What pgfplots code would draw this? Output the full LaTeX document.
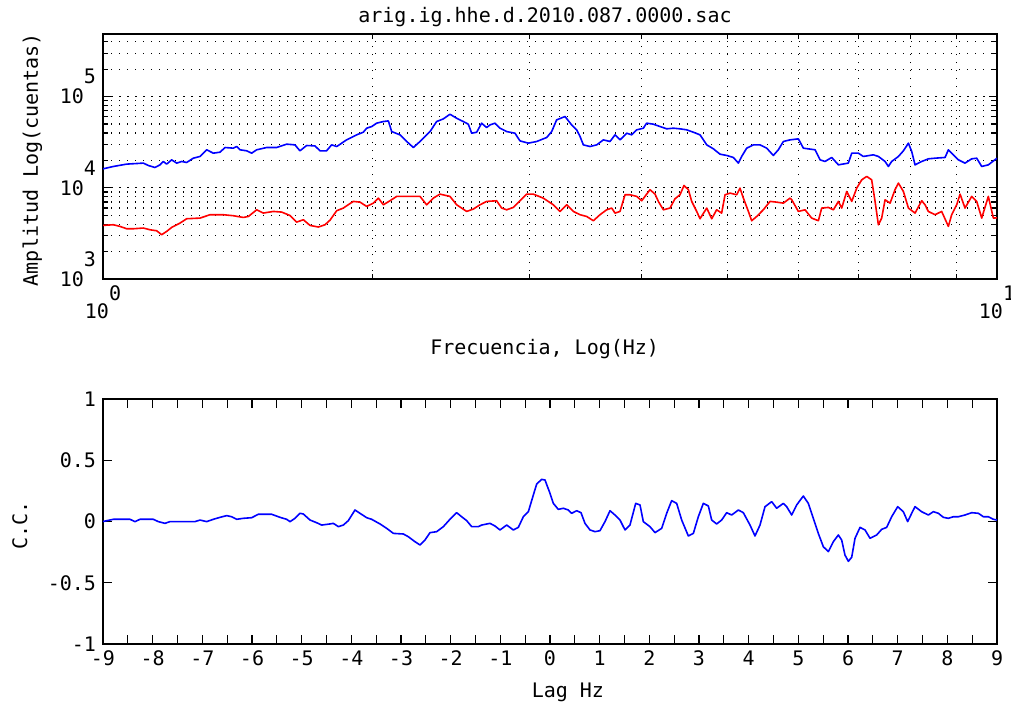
\documentclass[border=0pt]{standalone}
\usepackage{fontspec}
\setmainfont{DejaVu Sans Mono}
\usepackage{pgfplots}
\pgfplotsset{compat=1.18}
\usepackage{pgfplotstable}

% log10(frequency), log10(amplitude)
\pgfplotstableread{
lx ly
0.000 4.208
0.0115 4.234
0.0265 4.260
0.0451 4.271
0.0507 4.245
0.0581 4.223
0.0638 4.252
0.0675 4.289
0.0712 4.260
0.0768 4.307
0.0824 4.271
0.0880 4.289
0.0936 4.278
0.1010 4.325
0.1085 4.344
0.1160 4.417
0.1234 4.380
0.1309 4.391
0.1365 4.442
0.1458 4.435
0.1495 4.453
0.1532 4.417
0.1607 4.406
0.1663 4.380
0.1719 4.417
0.1830 4.442
0.1942 4.442
0.2054 4.479
0.2147 4.471
0.2203 4.406
0.2278 4.464
0.2371 4.460
0.2427 4.406
0.2501 4.406
0.2557 4.471
0.2614 4.453
0.2725 4.526
0.2837 4.581
0.2912 4.610
0.2949 4.654
0.3005 4.672
0.3061 4.709
0.3136 4.727
0.3192 4.734
0.3229 4.617
0.3322 4.581
0.3378 4.526
0.3471 4.442
0.3546 4.508
0.3658 4.617
0.3732 4.727
0.3807 4.756
0.3881 4.807
0.3956 4.763
0.4030 4.727
0.4086 4.698
0.4124 4.599
0.4180 4.610
0.4235 4.709
0.4291 4.661
0.4329 4.690
0.4385 4.709
0.4441 4.654
0.4515 4.617
0.4608 4.599
0.4664 4.515
0.4757 4.490
0.4851 4.508
0.4963 4.552
0.5019 4.617
0.5074 4.745
0.5168 4.782
0.5242 4.690
0.5298 4.636
0.5336 4.563
0.5373 4.471
0.5448 4.453
0.5522 4.471
0.5597 4.526
0.5671 4.508
0.5727 4.581
0.5783 4.526
0.5858 4.599
0.5914 4.581
0.5970 4.636
0.6044 4.654
0.6081 4.709
0.6156 4.698
0.6231 4.672
0.6305 4.647
0.6380 4.654
0.6454 4.647
0.6529 4.636
0.6603 4.610
0.6678 4.581
0.6753 4.471
0.6827 4.428
0.6902 4.369
0.6976 4.355
0.7051 4.333
0.7107 4.271
0.7144 4.344
0.7200 4.435
0.7275 4.471
0.7349 4.471
0.7424 4.435
0.7498 4.355
0.7554 4.417
0.7610 4.508
0.7685 4.526
0.7778 4.537
0.7834 4.435
0.7965 4.417
0.8021 4.307
0.8076 4.289
0.8151 4.333
0.8226 4.252
0.8337 4.271
0.8375 4.380
0.8449 4.380
0.8505 4.344
0.8617 4.362
0.8673 4.344
0.8748 4.289
0.8785 4.234
0.8822 4.289
0.8897 4.344
0.8953 4.406
0.9009 4.490
0.9046 4.398
0.9083 4.252
0.9158 4.289
0.9232 4.318
0.9307 4.325
0.9419 4.333
0.9456 4.417
0.9512 4.362
0.9568 4.307
0.9642 4.271
0.9717 4.318
0.9773 4.325
0.9829 4.234
0.9903 4.252
1.0000 4.325
}\bluedata

\pgfplotstableread{
lx ly
0.000 3.588
0.0115 3.595
0.0190 3.577
0.0265 3.551
0.0339 3.551
0.0451 3.559
0.0526 3.540
0.0600 3.529
0.0656 3.486
0.0712 3.522
0.0768 3.566
0.0861 3.613
0.0936 3.661
0.1085 3.668
0.1197 3.705
0.1346 3.705
0.1458 3.694
0.1570 3.675
0.1626 3.686
0.1719 3.759
0.1793 3.723
0.1905 3.741
0.1998 3.734
0.2091 3.697
0.2166 3.624
0.2241 3.650
0.2315 3.588
0.2408 3.570
0.2483 3.595
0.2539 3.645
0.2614 3.749
0.2688 3.778
0.2800 3.851
0.2875 3.843
0.2949 3.796
0.3024 3.832
0.3080 3.887
0.3136 3.814
0.3210 3.858
0.3285 3.906
0.3397 3.906
0.3546 3.906
0.3620 3.814
0.3695 3.887
0.3769 3.931
0.3881 3.906
0.3956 3.814
0.4068 3.741
0.4142 3.767
0.4217 3.814
0.4291 3.851
0.4403 3.858
0.4459 3.778
0.4515 3.759
0.4590 3.785
0.4664 3.858
0.4739 3.931
0.4813 3.931
0.4925 3.887
0.5037 3.814
0.5112 3.741
0.5187 3.814
0.5261 3.741
0.5336 3.705
0.5410 3.686
0.5485 3.639
0.5559 3.705
0.5634 3.759
0.5690 3.778
0.5727 3.723
0.5783 3.741
0.5839 3.924
0.5895 3.924
0.5970 3.906
0.6026 3.858
0.6081 3.931
0.6119 3.979
0.6175 3.931
0.6212 3.851
0.6268 3.759
0.6342 3.778
0.6398 3.880
0.6454 3.924
0.6499 4.026
0.6548 3.979
0.6585 3.851
0.6641 3.741
0.6678 3.661
0.6753 3.778
0.6809 3.661
0.6864 3.759
0.6920 3.723
0.6958 3.924
0.7014 3.942
0.7088 3.924
0.7125 3.997
0.7163 3.887
0.7219 3.741
0.7256 3.639
0.7312 3.686
0.7386 3.759
0.7461 3.851
0.7536 3.843
0.7610 3.832
0.7685 3.887
0.7704 3.869
0.7778 3.741
0.7853 3.759
0.7927 3.668
0.8002 3.639
0.8039 3.778
0.8114 3.785
0.8170 3.759
0.8226 3.851
0.8263 3.778
0.8319 3.960
0.8375 3.851
0.8431 3.997
0.8487 4.088
0.8543 4.125
0.8598 4.088
0.8636 3.851
0.8673 3.595
0.8710 3.668
0.8748 3.869
0.8804 3.832
0.8859 3.979
0.8897 4.052
0.8953 3.960
0.9009 3.778
0.9083 3.723
0.9158 3.858
0.9195 3.814
0.9232 3.741
0.9307 3.705
0.9381 3.741
0.9456 3.577
0.9493 3.705
0.9549 3.814
0.9587 3.931
0.9642 3.778
0.9717 3.906
0.9773 3.851
0.9829 3.668
0.9903 3.906
0.9959 3.668
1.0000 3.671
}\reddata

\pgfplotstableread{
lag cc
-9.000 0.000
-8.792 0.018
-8.456 0.018
-8.356 -0.001
-8.255 0.018
-7.987 0.018
-7.886 -0.001
-7.752 -0.015
-7.651 -0.001
-7.148 -0.001
-7.047 0.012
-6.913 -0.001
-6.779 0.018
-6.644 0.034
-6.510 0.048
-6.410 0.039
-6.309 0.018
-6.175 0.026
-6.007 0.031
-5.873 0.059
-5.604 0.059
-5.436 0.034
-5.302 0.018
-5.235 -0.001
-5.134 0.026
-5.033 0.067
-4.966 0.061
-4.832 0.012
-4.698 -0.010
-4.597 -0.029
-4.430 -0.020
-4.363 -0.015
-4.262 -0.042
-4.161 -0.029
-4.061 0.007
-3.926 0.094
-3.826 0.067
-3.691 0.031
-3.591 0.018
-3.423 -0.020
-3.289 -0.056
-3.154 -0.097
-2.953 -0.102
-2.853 -0.124
-2.718 -0.165
-2.617 -0.192
-2.517 -0.151
-2.416 -0.091
-2.282 -0.083
-2.148 -0.042
-2.014 0.018
-1.879 0.072
-1.779 0.039
-1.678 0.007
-1.577 -0.042
-1.443 -0.042
-1.376 -0.029
-1.208 -0.015
-1.107 -0.037
-1.007 -0.069
-0.872 -0.029
-0.738 -0.069
-0.638 -0.048
-0.537 0.039
-0.436 0.080
-0.336 0.216
-0.268 0.306
-0.168 0.344
-0.101 0.339
0.000 0.230
0.067 0.148
0.167 0.099
0.268 0.108
0.369 0.094
0.436 0.067
0.537 0.088
0.624 0.072
0.704 -0.015
0.805 -0.069
0.906 -0.083
1.006 -0.075
1.107 -0.001
1.208 0.088
1.308 0.053
1.409 0.012
1.510 -0.069
1.610 -0.029
1.725 0.148
1.812 0.135
1.879 -0.001
2.013 -0.042
2.114 -0.091
2.248 -0.056
2.349 0.067
2.449 0.170
2.550 0.148
2.651 0.012
2.785 -0.118
2.886 -0.097
2.986 0.039
3.087 0.148
3.188 0.127
3.255 0.012
3.355 -0.020
3.456 0.012
3.557 0.072
3.657 0.053
3.792 0.094
3.892 0.072
4.027 -0.029
4.127 -0.118
4.228 -0.029
4.329 0.121
4.463 0.162
4.563 0.108
4.698 0.148
4.765 0.121
4.866 0.053
4.966 0.135
5.100 0.208
5.201 0.148
5.268 0.067
5.402 -0.097
5.503 -0.206
5.604 -0.246
5.704 -0.165
5.805 -0.110
5.872 -0.151
5.939 -0.274
6.007 -0.325
6.074 -0.292
6.141 -0.137
6.242 -0.048
6.342 -0.069
6.443 -0.137
6.577 -0.110
6.678 -0.064
6.778 -0.048
6.879 0.039
7.000 0.121
7.114 0.080
7.201 -0.001
7.282 0.067
7.349 0.121
7.483 0.080
7.617 0.053
7.718 0.080
7.819 0.067
7.919 0.034
8.020 0.026
8.121 0.039
8.221 0.039
8.355 0.053
8.490 0.072
8.624 0.067
8.725 0.039
8.825 0.039
8.926 0.018
9.000 0.012
}\ccdata

\newcommand{\pw}[2]{#1\smash{\raisebox{1em}{#2}}}

\begin{document}
\begin{tikzpicture}
\useasboundingbox (0pt,0pt) rectangle (505.5pt,-353pt);
\pgfplotsset{
  every axis/.append style={
    scale only axis, width=447pt, height=122.5pt,
    axis line style={black, line width=1pt},
    tick style={black, line width=0.6pt},
    tick align=inside,
    ticklabel style={font=\normalsize},
    label style={font=\normalsize},
  }
}
\node[anchor=center, inner sep=0pt] at (272.5pt,-8.5pt) {arig.ig.hhe.d.2010.087.0000.sac};
\begin{axis}[
  at={(51.5pt,-17pt)}, anchor=north west,
  xmin=0, xmax=1, ymin=3, ymax=5.687,
  xtick={0,1}, xticklabels={10\raisebox{0.9em}{0},10\raisebox{0.9em}{1}},
  minor xtick={0.30103,0.47712,0.60206,0.69897,0.77815,0.84510,0.90309,0.95424},
  ytick={3,4,5},
  yticklabels={\pw{10}{3},\pw{10}{4},\pw{10}{5}},
  minor ytick={3.30103,3.47712,3.60206,3.69897,3.77815,3.84510,3.90309,3.95424,
               4.30103,4.47712,4.60206,4.69897,4.77815,4.84510,4.90309,4.95424,
               5.30103,5.47712,5.60206},
  major tick length=4pt, minor tick length=2.5pt,
  grid=both,
  major grid style={black, line width=0.6pt, dash pattern=on 1.2pt off 2.8pt},
  minor grid style={black, line width=0.6pt, dash pattern=on 0.6pt off 3.4pt},
  xlabel={Frecuencia, Log(Hz)},
  xlabel style={at={(axis description cs:0.494,-0.284)}, anchor=center},
  ylabel={Amplitud Log(cuentas)},
  ylabel style={at={(axis description cs:-0.079,0.487)}, anchor=center},
]
\addplot[blue, line width=0.8pt, line join=round] table[x=lx,y=ly] {\bluedata};
\addplot[red, line width=0.8pt, line join=round] table[x=lx,y=ly] {\reddata};
\end{axis}

\begin{axis}[
  at={(51.5pt,-199.5pt)}, anchor=north west,
  xmin=-9, xmax=9, ymin=-1, ymax=1,
  xtick={-9,-8,-7,-6,-5,-4,-3,-2,-1,0,1,2,3,4,5,6,7,8,9},
  xticklabels={-9,-8,-7,-6,-5,-4,-3,-2,-1,0,1,2,3,4,5,6,7,8,9},
  minor x tick num=1,
  ytick={-1,-0.5,0,0.5,1},
  yticklabels={-1,-0.5,0,0.5,1},
  major tick length=4.5pt, minor tick length=4.5pt,
  xlabel={Lag Hz},
  xlabel style={at={(axis description cs:0.520,-0.196)}, anchor=center},
  ylabel={C.C.},
  ylabel style={at={(axis description cs:-0.093,0.482)}, anchor=center},
]
\addplot[blue, line width=0.8pt, line join=round] table[x=lag,y=cc] {\ccdata};
\end{axis}
\end{tikzpicture}
\end{document}
